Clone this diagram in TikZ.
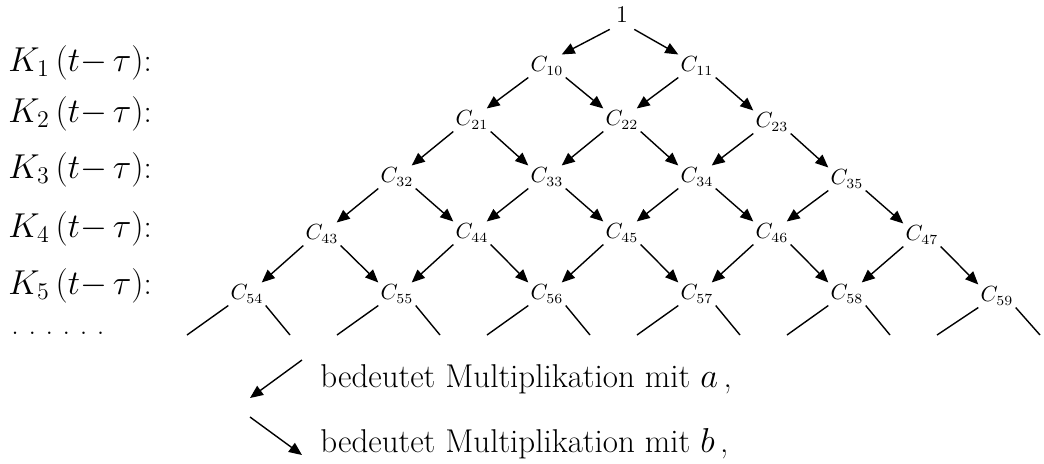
\documentclass[tikz,border=0pt]{standalone}
\usetikzlibrary{arrows.meta,calc}
\begin{document}
\begin{tikzpicture}[x=0.5pt,y=-0.5pt,
  cnode/.style={inner sep=1pt, font=\fontsize{10.5}{12}\selectfont},
  topnode/.style={inner sep=3pt, font=\fontsize{12}{14}\selectfont},
  klabel/.style={anchor=west, inner sep=0pt, font=\fontsize{16.5}{19}\selectfont},
  legendtext/.style={anchor=base west, inner sep=0pt, font=\fontsize{16.5}{19}\selectfont},
  arr/.style={line width=0.7pt, -{Triangle[length=6.5pt,width=5.5pt]}},
  stub/.style={line width=0.7pt},
]
\useasboundingbox (0,0) rectangle (1044,463);

% left labels
\node[klabel] (k1) at (8,63) {$K_1\,(t{-}\,\tau)$:};
\node[klabel] (k2) at (8,114) {$K_2\,(t{-}\,\tau)$:};
\node[klabel] (k3) at (8,170) {$K_3\,(t{-}\,\tau)$:};
\node[klabel] (k4) at (8,229) {$K_4\,(t{-}\,\tau)$:};
\node[klabel] (k5) at (8,286) {$K_5\,(t{-}\,\tau)$:};
\node[klabel, font=\fontsize{15}{17}\selectfont] (dots) at (11,333)
  {.\hspace{4.8pt}.\hspace{4.8pt}.\hspace{4.8pt}.\hspace{4.8pt}.\hspace{4.8pt}.};

% tree nodes
\node[topnode] (c00) at (622,15) {1};
\node[cnode] (c10) at (547,66) {$C_{10}$};
\node[cnode] (c11) at (697,66) {$C_{11}$};
\node[cnode] (c21) at (472,120) {$C_{21}$};
\node[cnode] (c22) at (622,120) {$C_{22}$};
\node[cnode] (c23) at (772,122) {$C_{23}$};
\node[cnode] (c32) at (397,177) {$C_{32}$};
\node[cnode] (c33) at (547,177) {$C_{33}$};
\node[cnode] (c34) at (697,177) {$C_{34}$};
\node[cnode] (c35) at (847,179) {$C_{35}$};
\node[cnode] (c43) at (322,234) {$C_{43}$};
\node[cnode] (c44) at (472,233) {$C_{44}$};
\node[cnode] (c45) at (622,233) {$C_{45}$};
\node[cnode] (c46) at (772,233) {$C_{46}$};
\node[cnode] (c47) at (922,235) {$C_{47}$};
\node[cnode] (c54) at (247,294) {$C_{54}$};
\node[cnode] (c55) at (397,294) {$C_{55}$};
\node[cnode] (c56) at (547,294) {$C_{56}$};
\node[cnode] (c57) at (697,294) {$C_{57}$};
\node[cnode] (c58) at (847,294) {$C_{58}$};
\node[cnode] (c59) at (997,296) {$C_{59}$};

% down-left arrows (multiplication with a)
\foreach \p/\c in {c00/c10, c10/c21, c11/c22, c21/c32, c22/c33, c23/c34,
                   c32/c43, c33/c44, c34/c45, c35/c46,
                   c43/c54, c44/c55, c45/c56, c46/c57, c47/c58}
  \draw[arr] (\p.south west) -- ([xshift=-2pt]\c.north east);

% down-right arrows (multiplication with b)
\foreach \p/\c in {c00/c11, c10/c22, c11/c23, c21/c33, c22/c34, c23/c35,
                   c32/c44, c33/c45, c34/c46, c35/c47,
                   c43/c55, c44/c56, c45/c57, c46/c58, c47/c59}
  \draw[arr] (\p.south east) -- (\c.north west);

% open stubs below the last row
\foreach \n/\x in {c54/247, c55/397, c56/547, c57/697, c58/847, c59/997} {
  \coordinate (\n l) at (\x-60,335);
  \coordinate (\n r) at (\x+43,335);
  \draw[stub] (\n.south west) -- (\n l);
  \draw[stub] (\n.south east) -- (\n r);
}

% legend
\coordinate (la1) at (302,360);
\coordinate (la2) at (250,398);
\draw[arr] (la1) -- (la2);
\node[legendtext] (t1) at (320,387) {bedeutet Multiplikation mit $a$\,,};
\coordinate (lb1) at (250,417);
\coordinate (lb2) at (302,455);
\draw[arr] (lb1) -- (lb2);
\node[legendtext] (t2) at (320,452) {bedeutet Multiplikation mit $b$\,,};
\end{tikzpicture}
\end{document}
